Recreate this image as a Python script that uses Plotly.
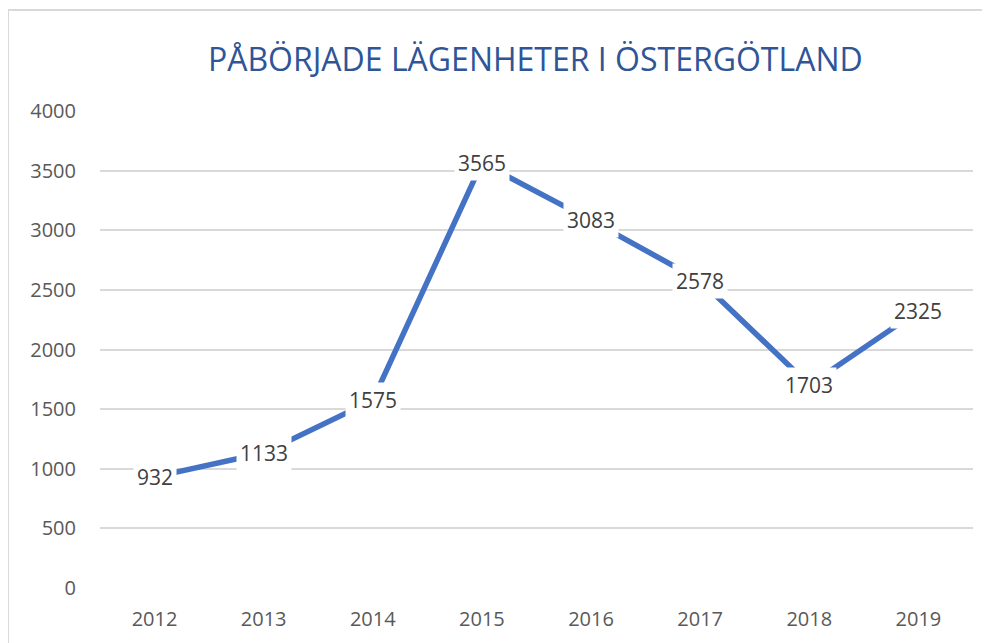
import plotly.graph_objects as go

years = ["2012", "2013", "2014", "2015", "2016", "2017", "2018", "2019"]
values = [932, 1133, 1575, 3565, 3083, 2578, 1703, 2325]
y_ticks = [0, 500, 1000, 1500, 2000, 2500, 3000, 3500, 4000]
title_text = "PÅBÖRJADE LÄGENHETER I ÖSTERGÖTLAND"

W, H = 982, 635

fig = go.Figure()
fig.add_trace(go.Scatter(
    x=years, y=values, mode="lines",
    line=dict(color="#4472C4", width=5.5),
    hoverinfo="x+y", showlegend=False,
))

for i, v in enumerate(values):
    fig.add_annotation(
        x=i, y=v, xref="x", yref="y", text=str(v), showarrow=False,
        bgcolor="white", borderpad=3,
        font=dict(family="Open Sans", size=21, color="#404040"),
        xanchor="center", yanchor="middle",
    )

fig.update_layout(
    width=W, height=H,
    paper_bgcolor="white", plot_bgcolor="white",
    margin=dict(l=92, r=17, t=103, b=55),
    title=dict(text=title_text, x=0.537, xanchor="center", y=0.919, yanchor="middle",
               font=dict(family="Open Sans", size=32, color="#2F5597")),
    xaxis=dict(type="category", showgrid=False, zeroline=False, showline=False,
               ticks="", ticklabelstandoff=17,
               tickfont=dict(family="Open Sans", size=20, color="#595959"),
               range=[-0.5, 7.5]),
    yaxis=dict(range=[0, 4000], tickvals=y_ticks, showgrid=True, gridcolor="#D9D9D9",
               gridwidth=2, zeroline=False, showline=False, ticks="",
               ticklabelstandoff=23,
               tickfont=dict(family="Open Sans", size=20, color="#595959")),
    shapes=[dict(type="rect", xref="paper", yref="paper", x0=-92/873, x1=1 + 12/873,
                 y0=-0.2, y1=1 + 101/477, line=dict(color="#D9D9D9", width=2))],
)

fig.write_html("out.html")
